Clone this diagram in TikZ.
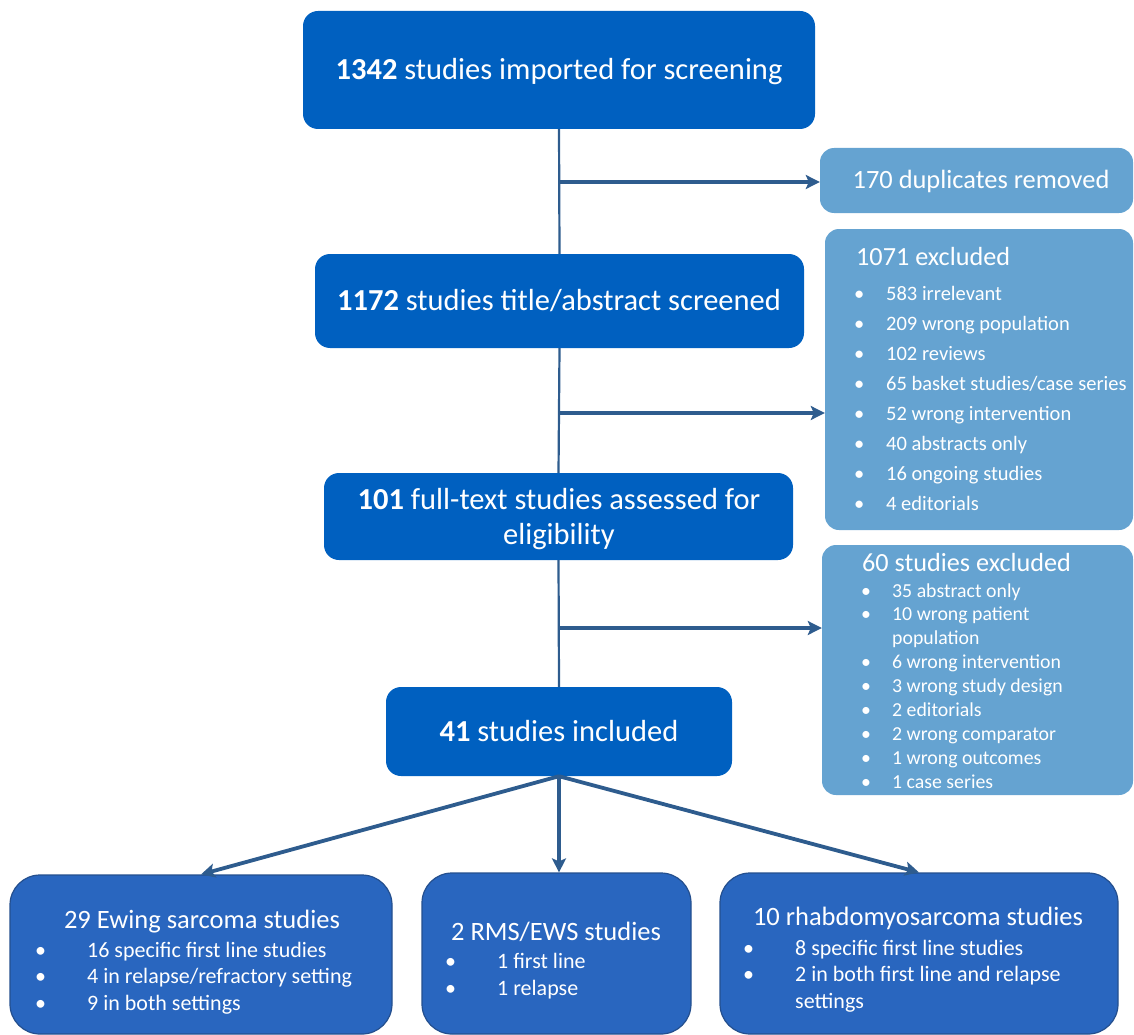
\documentclass[tikz,border=0pt]{standalone}
\usepackage{fontspec}
\setmainfont{Carlito}
\usetikzlibrary{arrows.meta}
\definecolor{mainblue}{HTML}{0060C0}
\definecolor{lightblue}{HTML}{65A3D1}
\definecolor{botblue}{HTML}{2966BF}
\definecolor{botedge}{HTML}{244F8E}
\definecolor{arrowblue}{HTML}{2E5C8E}
\newcommand{\bul}[1]{\makebox[#1][l]{•}}
\begin{document}
\begin{tikzpicture}[x=1pt,y=-1pt,
  mainbox/.style={fill=mainblue, rounded corners=15pt, inner sep=0pt},
  sidebox/.style={fill=lightblue, rounded corners=14pt, inner sep=0pt},
  botbox/.style={fill=botblue, draw=botedge, line width=1.2pt, rounded corners=30pt, inner sep=0pt},
  txt/.style={text=white, inner sep=0pt},
  flow/.style={draw=arrowblue, line width=2.2pt},
  arr/.style={draw=arrowblue, line width=3.8pt, -{Stealth[length=14pt,width=14pt,inset=3pt]}}]
\useasboundingbox (0,0) rectangle (1134,1035);

% main column boxes
\node[mainbox, minimum width=512pt, minimum height=118pt] (A) at (559,70) {};
\node[mainbox, minimum width=489pt, minimum height=94pt] (B) at (559.5,301) {};
\node[mainbox, minimum width=469pt, minimum height=87pt] (C) at (558.5,516.5) {};
\node[mainbox, minimum width=346pt, minimum height=89pt] (D) at (559,731.5) {};

% connectors of the main column
\draw[flow] (A.south) -- (B.north);
\draw[flow] (B.south) -- (C.north);
\draw[flow] (C.south) -- (D.north);

\node[txt, anchor=base, font=\fontsize{30.5}{36}\selectfont] (At) at (559,80) {\textbf{1342} studies imported for screening};
\node[txt, anchor=base, font=\fontsize{30.5}{36}\selectfont] (Bt) at (559,310) {\textbf{1172} studies title/abstract screened};
\node[txt, anchor=base, font=\fontsize{30.5}{35}\selectfont, align=center] (Ct) at (559,544) {\textbf{101} full-text studies assessed for\\eligibility};
\node[txt, anchor=base, font=\fontsize{30.5}{36}\selectfont] (Dt) at (559,741) {\textbf{41} studies included};

% side boxes
\node[sidebox, minimum width=313pt, minimum height=65pt] (R1) at (976.5,180.5) {};
\node[sidebox, minimum width=308pt, minimum height=301pt] (R2) at (979,379.5) {};
\node[sidebox, minimum width=311pt, minimum height=250pt] (R3) at (977.5,670) {};

\node[txt, anchor=base, font=\fontsize{26.4}{32}\selectfont] (R1t) at (981,189) {170 duplicates removed};
\node[txt, anchor=base west, font=\fontsize{26.2}{32}\selectfont] (R2t) at (856,265) {1071 excluded};
\node[txt, anchor=base west, font=\fontsize{20.5}{30}\selectfont] (R2l) at (854,300) {%
\begin{tabular}[t]{@{}l@{}}
\bul{32pt}583 irrelevant\\
\bul{32pt}209 wrong population\\
\bul{32pt}102 reviews\\
\bul{32pt}65 basket studies/case series\\
\bul{32pt}52 wrong intervention\\
\bul{32pt}40 abstracts only\\
\bul{32pt}16 ongoing studies\\
\bul{32pt}4 editorials
\end{tabular}};
\node[txt, anchor=base west, font=\fontsize{26.2}{32}\selectfont] (R3t) at (862,571) {60 studies excluded};
\node[txt, anchor=base west, font=\fontsize{19.8}{23.9}\selectfont] (R3l) at (861,597) {%
\begin{tabular}[t]{@{}l@{}}
\bul{31pt}35 abstract only\\
\bul{31pt}10 wrong patient\\
\hspace*{31pt}population\\
\bul{31pt}6 wrong intervention\\
\bul{31pt}3 wrong study design\\
\bul{31pt}2 editorials\\
\bul{31pt}2 wrong comparator\\
\bul{31pt}1 wrong outcomes\\
\bul{31pt}1 case series
\end{tabular}};

% bottom boxes
\node[botbox, minimum width=382pt, minimum height=159pt] (E) at (201,954.5) {};
\node[botbox, minimum width=269pt, minimum height=161pt] (F) at (556.5,953.5) {};
\node[botbox, minimum width=398pt, minimum height=161pt] (G) at (919,953.5) {};

\node[txt, anchor=base, font=\fontsize{26.5}{32}\selectfont] (Et) at (202,928) {29 Ewing sarcoma studies};
\node[txt, anchor=base west, font=\fontsize{22}{26.5}\selectfont] (El) at (35,957) {%
\begin{tabular}[t]{@{}l@{}}
\bul{52pt}16 specific first line studies\\
\bul{52pt}4 in relapse/refractory setting\\
\bul{52pt}9 in both settings
\end{tabular}};
\node[txt, anchor=base, font=\fontsize{26.5}{32}\selectfont] (Ft) at (556,940) {2 RMS/EWS studies};
\node[txt, anchor=base west, font=\fontsize{22}{27}\selectfont] (Fl) at (445,968) {%
\begin{tabular}[t]{@{}l@{}}
\bul{52pt}1 first line\\
\bul{52pt}1 relapse
\end{tabular}};
\node[txt, anchor=base, font=\fontsize{26.5}{32}\selectfont] (Gt) at (918,925) {10 rhabdomyosarcoma studies};
\node[txt, anchor=base west, font=\fontsize{22}{26.5}\selectfont] (Gl) at (743,955) {%
\begin{tabular}[t]{@{}l@{}}
\bul{52pt}8 specific first line studies\\
\bul{52pt}2 in both first line and relapse\\
\hspace*{52pt}settings
\end{tabular}};

% side arrows
\coordinate (j1) at (558,182);
\coordinate (j2) at (558,413);
\coordinate (j3) at (558,628);
\draw[arr] (j1) -- (j1 -| R1.west);
\draw[arr] (j2) -- (j2 -| R2.west);
\draw[arr] (j3) -- (j3 -| R3.west);

% bottom arrows
\draw[arr] (D.south) -- (E.north);
\draw[arr] (D.south) -- (D.south |- F.north);
\draw[arr] (D.south) -- (G.north);
\end{tikzpicture}
\end{document}
